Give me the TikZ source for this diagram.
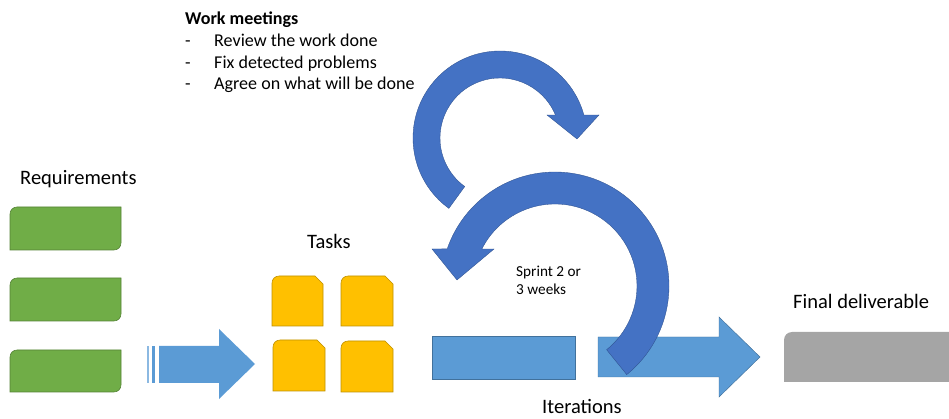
\documentclass[tikz,border=0pt]{standalone}
\usepackage{fontspec}
\setmainfont{Carlito}
\usepackage{xcolor}
\usepackage{tikz}
\usetikzlibrary{positioning,calc}
\definecolor{reqgreen}{HTML}{70AD47}
\definecolor{reqedge}{HTML}{548235}
\definecolor{taskyellow}{HTML}{FFC000}
\definecolor{taskedge}{HTML}{BF9000}
\definecolor{flowblue}{HTML}{5B9BD5}
\definecolor{flowedge}{HTML}{41719C}
\definecolor{loopblue}{HTML}{4472C4}
\definecolor{loopedge}{HTML}{2F528F}
\definecolor{finalgray}{HTML}{A5A5A5}
\tikzset{
    every node/.style={font=\fontsize{17.5}{21}\selectfont, inner sep=0pt, anchor=base west},
    reqbox/.style={fill=reqgreen, draw=reqedge, line width=0.5pt},
    taskbox/.style={fill=taskyellow, draw=taskedge, line width=0.5pt},
    flowshape/.style={fill=flowblue, draw=flowedge, line width=0.4pt},
    loopshape/.style={fill=loopblue, draw=loopedge, line width=0.3pt},
    notetext/.style={font=\fontsize{15.4}{18.5}\selectfont},
    sprinttext/.style={font=\fontsize{13}{16}\selectfont}
}

\begin{document}
\begin{tikzpicture}[x=0.03cm, y=0.03cm]
            \useasboundingbox (0,0) rectangle (949,418);

            % Requirements
            \node (reqlabel) at (20,233) {Requirements};
            \draw[reqbox] (10,168) -- (10,204) arc[start angle=180, end angle=90, radius=7] -- (121,211) -- (121,175) arc[start angle=0, end angle=-90, radius=7] -- cycle;
            \draw[reqbox] (10,97) -- (10,133) arc[start angle=180, end angle=90, radius=7] -- (121,140) -- (121,104) arc[start angle=0, end angle=-90, radius=7] -- cycle;
            \draw[reqbox] (10,26) -- (10,61) arc[start angle=180, end angle=90, radius=7] -- (121,68) -- (121,33) arc[start angle=0, end angle=-90, radius=7] -- cycle;

            % Arrow to the tasks
            \fill[flowblue!70] (147,35) rectangle (149,72);
            \fill[flowblue] (152,35) rectangle (155,72);
            \fill[flowblue] (159,72) -- (219,72) -- (219,89) -- (255,54) -- (219,19) -- (219,35) -- (159,35) -- cycle;

            % Tasks
            \node (tasklabel) at (307,169) {Tasks};
            \draw[taskbox] (272,92) -- (272,135) arc[start angle=180, end angle=90, radius=7] -- (315,142) -- (323,134) -- (323,92) -- cycle;
            \draw[taskbox] (341,92) -- (341,135) arc[start angle=180, end angle=90, radius=7] -- (385,142) -- (393,134) -- (393,92) -- cycle;
            \draw[taskbox] (273,27) -- (273,71) arc[start angle=180, end angle=90, radius=7] -- (317,78) -- (325,70) -- (325,27) -- cycle;
            \draw[taskbox] (341,26) -- (341,70) arc[start angle=180, end angle=90, radius=7] -- (385,77) -- (393,69) -- (393,26) -- cycle;

            % Work meetings note
            \node[notetext, font=\fontsize{15.4}{18.5}\selectfont\bfseries] (meetings) at (185,393) {Work meetings};
            \node[notetext] (dasha) at (185,371.3) {-};
            \node[notetext] (review) at (214,371.3) {Review the work done};
            \node[notetext] (dashb) at (185,349.7) {-};
            \node[notetext] (fix) at (214,349.7) {Fix detected problems};
            \node[notetext] (dashc) at (185,328.5) {-};
            \node[notetext] (agree) at (214,328.5) {Agree on what will be done};

            % Iterations
            \draw[flowshape] (432,39) rectangle (575,82);
            \draw[flowshape] (598,81) -- (719,81) -- (719,101) -- (760,61) -- (719,21) -- (719,41) -- (598,41) -- cycle;
            \node (iterlabel) at (542,5) {Iterations};
            \node[sprinttext] (sprinta) at (516,141) {Sprint 2 or};
            \node[sprinttext] (sprintb) at (516,123) {3 weeks};

            % Upper loop arrow
            \coordinate (upper) at (500,280);
            \draw[loopshape] ($(upper)+(234:87)$) arc[start angle=234, end angle=15.3, radius=87]
                -- (599,303) -- (577,279) -- (547,303)
                -- ($(upper)+(22.5:60)$) arc[start angle=22.5, end angle=234, radius=60] -- cycle;

            % Lower loop arrow
            \coordinate (lower) at (555,132);
            \draw[loopshape] ($(lower)+(-51:114)$) arc[start angle=-51, end angle=161, radius=114]
                -- (432,169) -- (457,138) -- (494,169)
                -- ($(lower)+(153.2:82)$) arc[start angle=153.2, end angle=-51, radius=82] -- cycle;

            % Final deliverable
            \node (finallabel) at (793,109) {Final deliverable};
            \fill[finalgray] (784,36) -- (784,78) arc[start angle=180, end angle=90, radius=8] -- (949,86) -- (949,36) -- cycle;
        \end{tikzpicture}
\end{document}
